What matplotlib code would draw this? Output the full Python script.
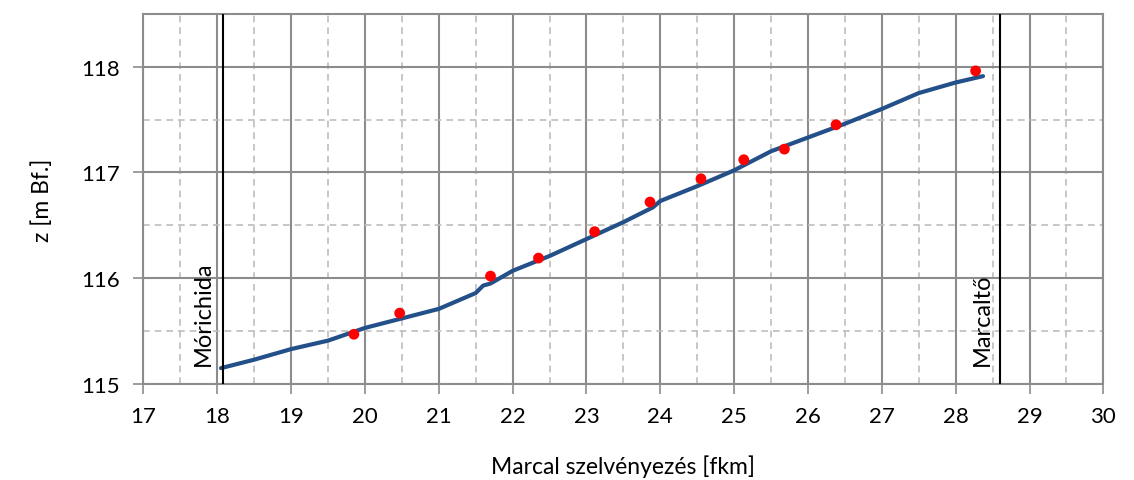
import numpy as np
import matplotlib
matplotlib.use("Agg")
import matplotlib.pyplot as plt
from matplotlib.ticker import MultipleLocator

plt.rcParams['font.family'] = ['Lato', 'DejaVu Sans']

profile_km = [18.05, 18.5, 19.0, 19.5, 20.0, 20.5, 21.0, 21.5, 21.6, 21.7,
              22.0, 22.5, 23.0, 23.5, 23.9, 24.0, 24.5, 25.0, 25.5, 26.0,
              26.5, 27.0, 27.5, 28.0, 28.37]
profile_z = [115.15, 115.23, 115.33, 115.41, 115.53, 115.62, 115.71, 115.86, 115.93, 115.95,
             116.07, 116.21, 116.37, 116.53, 116.67, 116.73, 116.87, 117.02, 117.20, 117.33,
             117.46, 117.60, 117.75, 117.85, 117.91]

# --- surveyed points ---
point_km = [19.85, 20.47, 21.70, 22.35, 23.11, 23.86, 24.55, 25.13, 25.68, 26.38, 28.27]
point_z = [115.47, 115.67, 116.02, 116.19, 116.44, 116.72, 116.94, 117.12, 117.22, 117.45, 117.96]

# --- reach boundaries ---
bound_km = [18.08, 28.6]
bound_names = ["Mórichida", "Marcaltő"]
label_km = [17.95, 28.5]

fig = plt.figure(figsize=(11.34, 4.81), dpi=100)
ax = fig.add_axes([0.1265, 0.1996, 0.8465, 0.7698])

ax.set_xlim(17, 30)
ax.set_ylim(115, 118.5)
ax.xaxis.set_major_locator(MultipleLocator(1))
ax.xaxis.set_minor_locator(MultipleLocator(0.5))
ax.yaxis.set_major_locator(MultipleLocator(1))
ax.yaxis.set_minor_locator(MultipleLocator(0.5))

ax.grid(which='major', color='#8c8c8c', lw=1.5, ls='-')
ax.grid(which='minor', color='#bdbdbd', lw=1.2, ls=(0, (4, 3)))
ax.set_axisbelow(True)

for s in ax.spines.values():
    s.set_color('#8c8c8c')
    s.set_linewidth(1.5)

ax.tick_params(which='major', direction='out', length=7, width=1.2, color='#8c8c8c',
               labelsize=16, labelcolor='black')
ax.tick_params(axis='y', which='major', pad=10)
ax.tick_params(axis='x', which='major', pad=9)
ax.tick_params(which='minor', length=0)

ax.plot(profile_km, profile_z, color='#24508A', lw=3, solid_capstyle='round', zorder=3)
ax.scatter(point_km, point_z, s=60, color='#ff0000', edgecolors='none', zorder=4)

for km, name, lk in zip(bound_km, bound_names, label_km):
    ax.axvline(km, color='black', lw=1.5, zorder=5)
    ax.text(lk, 115.18, name, rotation=90, ha='right', va='bottom', fontsize=17)

ax.set_xlabel("Marcal szelvényezés [fkm]", fontsize=16.5, labelpad=20)
ax.set_ylabel("z [m Bf.]", fontsize=16.5, labelpad=20)

fig.savefig("out.png", dpi=100)
